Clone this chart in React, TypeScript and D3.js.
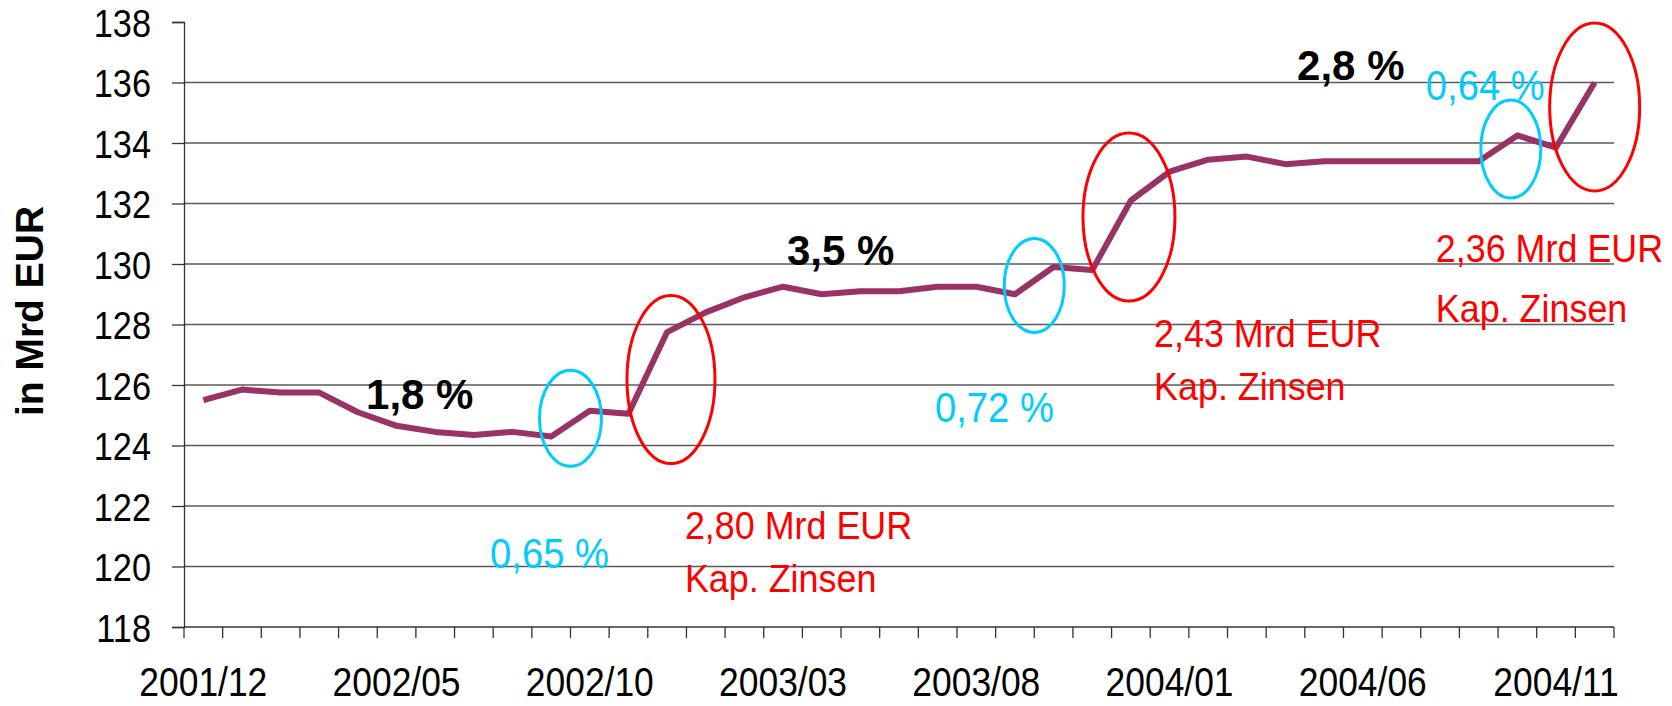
import React, { useEffect, useRef } from 'react';
import * as d3 from 'd3';

// monthly values, 2001/12 .. 2004/12
const months = [
  '2001/12', '2002/01', '2002/02', '2002/03', '2002/04', '2002/05', '2002/06', '2002/07',
  '2002/08', '2002/09', '2002/10', '2002/11', '2002/12', '2003/01', '2003/02', '2003/03',
  '2003/04', '2003/05', '2003/06', '2003/07', '2003/08', '2003/09', '2003/10', '2003/11',
  '2003/12', '2004/01', '2004/02', '2004/03', '2004/04', '2004/05', '2004/06', '2004/07',
  '2004/08', '2004/09', '2004/10', '2004/11', '2004/12',
];
const amounts = [
  125.5, 125.85, 125.75, 125.75, 125.1, 124.65, 124.45, 124.35, 124.45, 124.3,
  125.15, 125.05, 127.75, 128.4, 128.9, 129.25, 129.0, 129.1, 129.1, 129.25,
  129.25, 129.0, 129.9, 129.8, 132.1, 133.05, 133.45, 133.55, 133.3, 133.4,
  133.4, 133.4, 133.4, 133.4, 134.25, 133.85, 136.0,
];
const yTicks = [118, 120, 122, 124, 126, 128, 130, 132, 134, 136, 138];
const gridValues = [120, 122, 124, 126, 128, 130, 132, 134, 136];
const xTickLabels = ['2001/12', '2002/05', '2002/10', '2003/03', '2003/08', '2004/01', '2004/06', '2004/11'];

// annotations in data space: i = category index (fractional), v = value
const growthNotes = [
  { text: '1,8 %', i: 4.21, v: 125.21 },
  { text: '3,5 %', i: 15.1, v: 129.97 },
  { text: '2,8 %', i: 28.3, v: 136.08 },
];
const rateNotes = [
  { text: '0,65 %', i: 7.42, v: 119.95 },
  { text: '0,72 %', i: 18.93, v: 124.78 },
  { text: '0,64 %', i: 31.63, v: 135.42 },
];
const interestNotes = [
  { text: '2,80 Mrd EUR', i: 12.46, v: 120.91, gap: 53 },
  { text: '2,43 Mrd EUR', i: 24.6, v: 127.26, gap: 53 },
  { text: '2,36 Mrd EUR', i: 31.89, v: 130.07, gap: 60 },
];
const blueRings = [
  { i: 9.5, v: 124.9, rx: 31, ry: 48 },
  { i: 21.5, v: 129.29, rx: 30, ry: 47 },
  { i: 33.83, v: 133.8, rx: 30, ry: 49 },
];
const redRings = [
  { i: 12.1, v: 126.18, rx: 44, ry: 84 },
  { i: 23.95, v: 131.55, rx: 46, ry: 84 },
  { i: 36, v: 135.19, rx: 45, ry: 84 },
];

const SANS = "'Liberation Sans', Arial, sans-serif";

const App = () => {
  const ref = useRef<SVGSVGElement>(null);

  useEffect(() => {
    const W = 1672, H = 706;
    const svg = d3.select(ref.current).attr('width', W).attr('height', H);
    svg.selectAll('*').remove();

    const left = 184, right = 1614, top = 22, bottom = 627;

    const x = d3.scaleBand().domain(months).range([left, right]).padding(0);
    const bw = x.bandwidth();
    const xi = (i: number) => left + (i + 0.5) * bw;
    const y = d3.scaleLinear().domain([118, 138]).range([bottom, top]);

    // grid
    svg.append('g')
      .selectAll('line')
      .data(gridValues)
      .enter().append('line')
      .attr('x1', left).attr('x2', right)
      .attr('y1', d => y(d)).attr('y2', d => y(d))
      .attr('stroke', '#5a5a5a').attr('stroke-width', 1.4);

    // y axis (narrow look: squeeze Liberation Sans horizontally)
    const ya = svg.append('g')
      .attr('transform', `translate(${left},0)`)
      .call(d3.axisLeft(y).tickValues(yTicks).tickSize(12).tickFormat(d3.format('d')));
    ya.select('.domain').attr('stroke', '#333').attr('stroke-width', 1.3);
    ya.selectAll('.tick line').attr('stroke', '#333').attr('stroke-width', 1.3);
    ya.selectAll('text')
      .attr('font-family', SANS).attr('font-size', 39).attr('fill', '#000')
      .attr('x', -33 / 0.88).attr('dy', '0.36em')
      .attr('transform', 'scale(0.88,1)');

    // x axis: tick marks between categories, labels every 5 months
    svg.append('line')
      .attr('x1', left).attr('x2', right).attr('y1', bottom).attr('y2', bottom)
      .attr('stroke', '#333').attr('stroke-width', 1.3);
    svg.append('g')
      .selectAll('line')
      .data(d3.range(months.length + 1))
      .enter().append('line')
      .attr('x1', d => left + d * bw).attr('x2', d => left + d * bw)
      .attr('y1', bottom).attr('y2', bottom + 11)
      .attr('stroke', '#333').attr('stroke-width', 1.3);
    const xa = svg.append('g')
      .attr('transform', `translate(0,${bottom})`)
      .call(d3.axisBottom(x).tickValues(xTickLabels).tickSize(0));
    xa.select('.domain').remove();
    xa.selectAll('text')
      .attr('font-family', SANS).attr('font-size', 40).attr('fill', '#000')
      .attr('y', 69).attr('dy', 0)
      .attr('transform', 'scale(0.885,1)');

    // axis title
    svg.append('text')
      .attr('transform', `translate(43,311) rotate(-90)`)
      .attr('text-anchor', 'middle')
      .attr('font-family', SANS).attr('font-weight', 'bold').attr('font-size', 39)
      .text('in Mrd EUR');

    // line
    const line = d3.line<number>()
      .x((_, i) => xi(i))
      .y(d => y(d));
    svg.append('path')
      .datum(amounts)
      .attr('d', line)
      .attr('fill', 'none')
      .attr('stroke', '#993366')
      .attr('stroke-width', 6)
      .attr('stroke-linejoin', 'round');

    // rings
    svg.append('g')
      .selectAll('ellipse')
      .data(blueRings)
      .enter().append('ellipse')
      .attr('cx', d => xi(d.i)).attr('cy', d => y(d.v))
      .attr('rx', d => d.rx).attr('ry', d => d.ry)
      .attr('fill', 'none').attr('stroke', '#00ccff').attr('stroke-width', 3);
    svg.append('g')
      .selectAll('ellipse')
      .data(redRings)
      .enter().append('ellipse')
      .attr('cx', d => xi(d.i)).attr('cy', d => y(d.v))
      .attr('rx', d => d.rx).attr('ry', d => d.ry)
      .attr('fill', 'none').attr('stroke', '#ff0000').attr('stroke-width', 3);

    // text notes
    svg.append('g')
      .selectAll('text')
      .data(growthNotes)
      .enter().append('text')
      .attr('x', d => xi(d.i)).attr('y', d => y(d.v))
      .attr('font-family', SANS).attr('font-weight', 'bold').attr('font-size', 42)
      .attr('fill', '#000')
      .text(d => d.text);
    svg.append('g')
      .selectAll('text')
      .data(rateNotes)
      .enter().append('text')
      .attr('transform', d => `translate(${xi(d.i)},${y(d.v)}) scale(0.91,1)`)
      .attr('font-family', SANS).attr('font-size', 42)
      .attr('fill', '#00ccff')
      .text(d => d.text);
    const inter = svg.append('g')
      .selectAll('g')
      .data(interestNotes)
      .enter().append('g')
      .attr('transform', d => `translate(${xi(d.i)},${y(d.v)}) scale(0.92,1)`);
    inter.append('text')
      .attr('font-family', SANS).attr('font-size', 39)
      .attr('fill', '#ff0000')
      .text(d => d.text);
    inter.append('text')
      .attr('y', d => d.gap)
      .attr('font-family', SANS).attr('font-size', 39)
      .attr('fill', '#ff0000')
      .text('Kap. Zinsen');
  }, []);

  return <svg ref={ref} style={{ position: 'absolute', left: 0, top: 0, background: '#fff' }}></svg>;
};

export default App;
